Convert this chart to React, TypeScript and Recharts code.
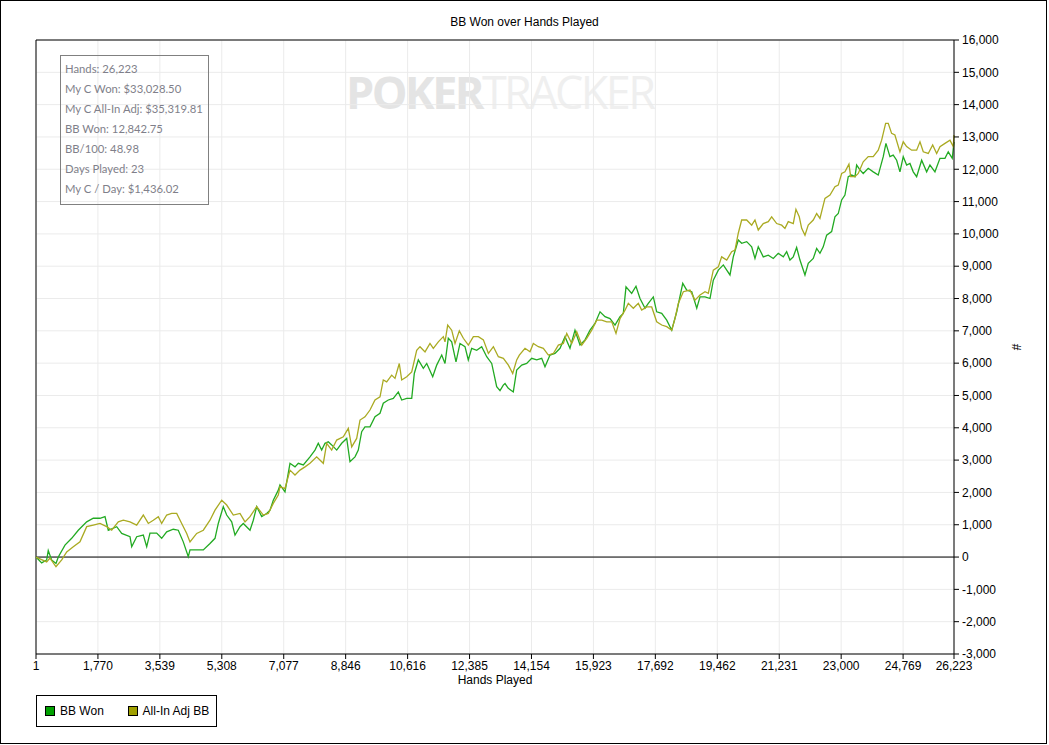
import { CartesianGrid, Line, LineChart, ReferenceLine, XAxis, YAxis } from 'recharts'

const W = 1049
const H = 745

const handTicks = [1, 1770, 3539, 5308, 7077, 8846, 10616, 12385, 14154, 15923, 17692, 19462, 21231, 23000, 24769, 26223]
const bbTicks = [-3000, -2000, -1000, 0, 1000, 2000, 3000, 4000, 5000, 6000, 7000, 8000, 9000, 10000, 11000, 12000, 13000, 14000, 15000, 16000]

const statLines = [
  'Hands: 26,223',
  'My C Won: $33,028.50',
  'My C All-In Adj: $35,319.81',
  'BB Won: 12,842.75',
  'BB/100: 48.98',
  'Days Played: 23',
  'My C / Day: $1,436.02',
]

// BB Won (green)
const wonHands = [
  1, 163, 306, 351, 448, 572, 638, 829, 1020, 1209, 1449, 1637, 1829, 1972, 2066, 2306, 2449, 2686, 2735, 2877,
  3066, 3163, 3257, 3448, 3591, 3734, 3922, 4065, 4208, 4351, 4400, 4591, 4780, 4971, 5114, 5208, 5351, 5448, 5591, 5685,
  5828, 5922, 6114, 6208, 6305, 6448, 6591, 6685, 6779, 6922, 6970, 7113, 7256, 7399, 7493, 7636, 7827, 7970, 8064, 8161,
  8256, 8350, 8447, 8590, 8733, 8876, 8970, 9113, 9207, 9304, 9398, 9541, 9684, 9827, 9921, 10064, 10207, 10350, 10447, 10590,
  10733, 10807, 10922, 11065, 11162, 11333, 11447, 11590, 11684, 11778, 11875, 11998, 12112, 12255, 12349, 12446, 12589, 12732, 12875, 13018,
  13160, 13255, 13349, 13398, 13492, 13635, 13732, 13875, 14017, 14160, 14303, 14446, 14540, 14683, 14826, 14969, 15112, 15254, 15397, 15540,
  15683, 15826, 15969, 16112, 16254, 16397, 16540, 16683, 16777, 16854, 17016, 17139, 17254, 17397, 17491, 17634, 17731, 17874, 18017, 18160,
  18303, 18475, 18589, 18732, 18875, 18968, 19111, 19254, 19348, 19491, 19634, 19731, 19824, 19918, 20061, 20158, 20301, 20444, 20538, 20632,
  20775, 20918, 21061, 21204, 21347, 21443, 21537, 21631, 21728, 21823, 21966, 22060, 22203, 22300, 22394, 22488, 22585, 22728, 22822, 22917,
  23014, 23108, 23202, 23300, 23394, 23442, 23536, 23630, 23773, 23916, 24059, 24202, 24279, 24393, 24487, 24585, 24679, 24773, 24870, 24965,
  25059, 25156, 25299, 25442, 25536, 25679, 25822, 25965, 26059, 26173, 26223,
]
const wonBB = [
  0, -180, -90, 200, -90, -200, 0, 370, 580, 830, 1090, 1200, 1200, 1250, 830, 940, 730, 630, 320, 630,
  680, 320, 740, 740, 580, 780, 860, 830, 470, 10, 220, 220, 220, 420, 580, 1040, 1560, 1300, 1090, 680,
  940, 1040, 830, 1140, 1560, 1250, 1350, 1450, 1760, 2070, 2230, 2020, 2900, 2790, 2900, 2850, 3100, 3310, 3520, 3310,
  3520, 3570, 3470, 3310, 3520, 3670, 2950, 3100, 3310, 3880, 4030, 4030, 4340, 4450, 4760, 4860, 4910, 5110, 4860, 4910,
  4910, 5680, 6100, 5840, 5990, 5580, 5940, 6250, 5990, 6770, 6660, 6040, 6610, 6510, 6100, 6460, 6400, 6510, 6200, 5990,
  5270, 5150, 5320, 5370, 5220, 5110, 5790, 5940, 5990, 6150, 6100, 6150, 5890, 6250, 6300, 6460, 6820, 6460, 7020, 6560,
  6720, 7020, 7230, 7590, 7440, 7380, 7180, 7440, 7540, 8360, 8160, 8380, 8000, 7700, 7850, 8050, 7590, 7540, 7330, 7020,
  7590, 8470, 8260, 8210, 7700, 8050, 8050, 8000, 8570, 8880, 9040, 8880, 8730, 9290, 9810, 9710, 9760, 9600, 9240, 9600,
  9290, 9340, 9240, 9400, 9290, 9450, 9190, 9290, 9580, 9190, 8730, 9090, 9240, 9550, 9400, 9600, 9960, 10070, 10530, 10630,
  11050, 11200, 11770, 11820, 11770, 12130, 11980, 11870, 12030, 11920, 11820, 12390, 12800, 12390, 12440, 12280, 11920, 12390, 12130, 12180,
  11920, 11770, 12280, 11920, 12130, 11920, 12340, 12340, 12540, 12340, 12843,
]

// All-In Adj BB (olive)
const adjHands = [
  1, 306, 400, 572, 735, 878, 1066, 1257, 1449, 1637, 1829, 2020, 2163, 2352, 2495, 2686, 2877, 3066, 3209, 3352,
  3495, 3591, 3734, 3877, 4020, 4163, 4306, 4400, 4591, 4780, 4971, 5114, 5306, 5448, 5637, 5828, 5971, 6114, 6305, 6494,
  6637, 6779, 6922, 6970, 7113, 7256, 7399, 7542, 7685, 7827, 8018, 8208, 8304, 8447, 8590, 8779, 8922, 9019, 9161, 9256,
  9398, 9541, 9684, 9827, 9921, 10018, 10161, 10255, 10378, 10447, 10590, 10733, 10875, 10970, 11113, 11255, 11350, 11493, 11636, 11684,
  11761, 11875, 11970, 12093, 12208, 12351, 12494, 12637, 12780, 12923, 13066, 13208, 13351, 13494, 13618, 13732, 13807, 13969, 14112, 14207,
  14350, 14493, 14636, 14779, 14922, 15064, 15161, 15304, 15447, 15590, 15732, 15875, 16018, 16161, 16304, 16447, 16568, 16683, 16826, 16920,
  17063, 17206, 17302, 17445, 17588, 17731, 17874, 18017, 18160, 18253, 18348, 18491, 18681, 18824, 18968, 19111, 19205, 19348, 19491, 19586,
  19731, 19872, 19967, 20061, 20158, 20301, 20444, 20538, 20632, 20775, 20918, 21015, 21158, 21301, 21394, 21489, 21632, 21708, 21803, 21872,
  21966, 22060, 22203, 22300, 22394, 22537, 22680, 22822, 22917, 23014, 23108, 23222, 23271, 23394, 23488, 23630, 23773, 23916, 24059, 24156,
  24270, 24345, 24441, 24535, 24679, 24773, 24870, 25013, 25156, 25251, 25345, 25488, 25614, 25728, 25822, 25965, 26108, 26202, 26223,
]
const adjBB = [
  0, -150, -30, -300, -90, 160, 320, 470, 940, 990, 1040, 940, 830, 1090, 1140, 1090, 990, 1300, 1040, 1140,
  1250, 1040, 1300, 1350, 1350, 1040, 730, 470, 730, 830, 1140, 1450, 1760, 1610, 1300, 1350, 1090, 1250, 1560, 1300,
  1350, 1660, 1920, 2180, 2120, 2690, 2540, 2690, 2790, 2900, 3100, 2900, 3520, 3310, 3620, 3720, 3980, 3410, 3670, 4240,
  4340, 4550, 4860, 4960, 5480, 5420, 5630, 5530, 5990, 5480, 5580, 5730, 6400, 6510, 6350, 6610, 6460, 6660, 6820, 6660,
  7180, 7020, 6610, 7000, 6770, 6560, 6820, 6820, 6720, 6300, 6510, 6200, 6150, 5940, 5680, 6100, 6250, 6460, 6350, 6610,
  6510, 6460, 6250, 6300, 6560, 6610, 6920, 6610, 6970, 6560, 6770, 7020, 7330, 7330, 7280, 7280, 6920, 7380, 7640, 7850,
  7700, 7850, 7640, 7740, 7740, 7280, 7180, 7130, 7020, 7380, 7850, 8210, 8260, 7950, 8110, 8210, 8160, 8880, 8980, 9290,
  9190, 9450, 9500, 10020, 10430, 10430, 10270, 10430, 10120, 10320, 10380, 10530, 10320, 10270, 10170, 10380, 10320, 10760, 10530, 10170,
  9960, 10270, 10430, 10630, 10480, 11100, 11200, 11460, 11510, 11870, 11920, 12160, 11770, 11770, 11870, 12230, 12390, 12390, 12590, 12900,
  13420, 13420, 13110, 13060, 12540, 12850, 12700, 12590, 12590, 12850, 12540, 12490, 12750, 12490, 12700, 12800, 12900, 12700, 13060,
]

const wonData = wonHands.map((h, i) => ({ hands: h, bb: wonBB[i] }))
const adjData = adjHands.map((h, i) => ({ hands: h, bb: adjBB[i] }))

const GREEN = '#22aa22'
const OLIVE = '#aaaa22'
const fmt = (v: number) => v.toLocaleString('en-US')
const axisFont = { fontSize: 12, fill: '#000', fontFamily: '"Liberation Sans", Arial, sans-serif' }

function LegendBox() {
  const item = (color: string, label: string, w: number) => (
    <div style={{ display: 'flex', alignItems: 'center', width: w }}>
      <span style={{ width: 8, height: 8, background: color, border: '1px solid #000', marginRight: 5 }} />
      <span>{label}</span>
    </div>
  )
  return (
    <div
      style={{
        position: 'absolute',
        left: 36,
        top: 695,
        display: 'flex',
        alignItems: 'center',
        boxSizing: 'border-box',
        width: 181,
        height: 32,
        border: '1px solid #000',
        paddingLeft: 8,
        fontSize: 12,
        color: '#000',
        background: '#fff',
      }}
    >
      {item('#00a000', 'BB Won', 84)}
      {item('#a0a000', 'All-In Adj BB', 90)}
    </div>
  )
}

export default function App() {
  return (
    <div style={{ position: 'absolute', left: 0, top: 0, width: W, height: H, background: '#fff', fontFamily: '"Liberation Sans", Arial, sans-serif' }}>
      {/* watermark sits under the transparent chart svg */}
      <div style={{ position: 'absolute', left: 346, top: 61, fontFamily: '"Open Sans", sans-serif', fontSize: 45, letterSpacing: -2.6, whiteSpace: 'nowrap' }}>
        <span style={{ color: '#e4e4e4', fontWeight: 700 }}>POKER</span>
        <span style={{ color: '#efefef', fontWeight: 400 }}>TRACKER</span>
      </div>

      <div style={{ position: 'absolute', left: 0, top: 0 }}>
        <LineChart width={W} height={H} margin={{ top: 40, left: 36, right: 35, bottom: 61 }}>
          <CartesianGrid stroke="#ebebeb" />
          <XAxis
            dataKey="hands"
            type="number"
            domain={[1, 26223]}
            ticks={handTicks}
            tickFormatter={fmt}
            allowDuplicatedCategory={false}
            stroke="#000"
            tick={axisFont}
            tickSize={5}
            tickMargin={2}
            height={30}
            interval={0}
            label={{ value: 'Hands Played', position: 'insideBottom', offset: 0, style: { ...axisFont, textAnchor: 'middle' } }}
          />
          <YAxis
            orientation="right"
            type="number"
            domain={[-3000, 16000]}
            ticks={bbTicks}
            tickFormatter={fmt}
            stroke="#000"
            tick={{ ...axisFont, textAnchor: 'start' }}
            tickSize={5}
            tickMargin={3}
            width={60}
            interval={0}
            label={{ value: '#', angle: 90, position: 'insideRight', offset: -2, style: { ...axisFont, textAnchor: 'middle' } }}
          />
          <ReferenceLine y={0} stroke="#000" />
          <ReferenceLine y={16000} stroke="#000" />
          <ReferenceLine x={1} stroke="#000" />
          <Line
            data={wonData}
            dataKey="bb"
            name="BB Won"
            stroke={GREEN}
            strokeWidth={1.3}
            dot={false}
            isAnimationActive={false}
          />
          <Line
            data={adjData}
            dataKey="bb"
            name="All-In Adj BB"
            stroke={OLIVE}
            strokeWidth={1.3}
            dot={false}
            isAnimationActive={false}
          />
        </LineChart>
      </div>

      <LegendBox />

      <div
        style={{
          position: 'absolute',
          left: 60,
          top: 55,
          width: 149,
          height: 150,
          boxSizing: 'border-box',
          border: '1px solid #808080',
          padding: '3px 0 0 4px',
          fontFamily: 'Lato, sans-serif',
          fontSize: 11.3,
          lineHeight: '20px',
          whiteSpace: 'nowrap',
          color: '#7f7f8a',
        }}
      >
        {statLines.map((s) => (
          <div key={s}>{s}</div>
        ))}
      </div>

      <div style={{ position: 'absolute', left: 0, top: 15, width: W, textAlign: 'center', fontSize: 12, color: '#000' }}>
        BB Won over Hands Played
      </div>
      <div style={{ position: 'absolute', left: 0, top: 0, width: W - 2, height: H - 1, border: '1px solid #000', boxSizing: 'border-box', pointerEvents: 'none' }} />
    </div>
  )
}
